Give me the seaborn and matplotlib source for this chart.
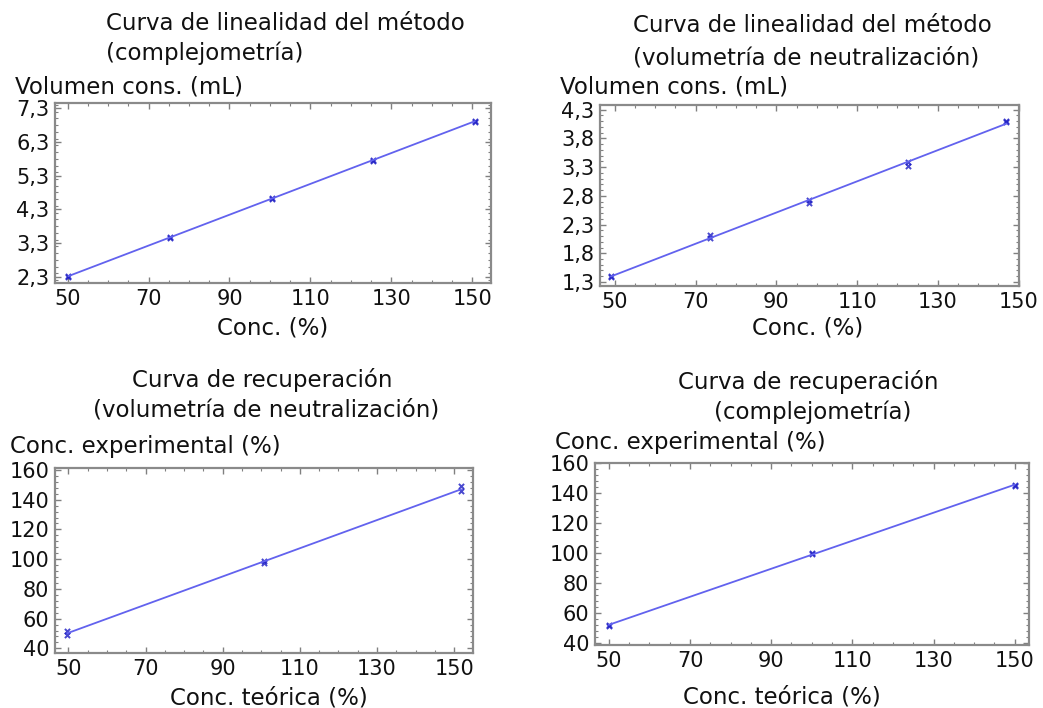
import numpy as np
import pandas as pd
import matplotlib
matplotlib.use("Agg")
import matplotlib.pyplot as plt
import seaborn as sns
from matplotlib.ticker import MultipleLocator, FuncFormatter

# Linearity, complexometry (conc. % vs volume mL)
lin_comp_conc = [50.2, 50.2, 75.3, 75.3, 100.4, 100.4, 125.5, 125.5, 150.6, 150.6]
lin_comp_vol = [2.30, 2.32, 3.46, 3.48, 4.61, 4.63, 5.75, 5.77, 6.91, 6.93]

# Linearity, neutralization volumetry
lin_neut_conc = [49.0, 49.0, 73.5, 73.5, 98.0, 98.0, 122.5, 122.5, 147.0, 147.0]
lin_neut_vol = [1.38, 1.41, 2.07, 2.12, 2.73, 2.67, 3.38, 3.31, 4.08, 4.11]

# Recovery, neutralization volumetry
rec_neut_teo = [49.7, 49.7, 100.8, 100.8, 151.8, 151.8]
rec_neut_exp = [52.0, 49.0, 98.5, 97.5, 149.0, 145.5]

# Recovery, complexometry
rec_comp_teo = [50.0, 50.0, 100.0, 100.0, 150.0, 150.0]
rec_comp_exp = [52.0, 51.5, 100.5, 99.5, 145.5, 145.0]

# Tick values
x_ticks = [50, 70, 90, 110, 130, 150]
lin_comp_yticks = [2.3, 3.3, 4.3, 5.3, 6.3, 7.3]
lin_neut_yticks = [1.3, 1.8, 2.3, 2.8, 3.3, 3.8, 4.3]
rec_yticks = [40, 60, 80, 100, 120, 140, 160]

W, H = 1043, 708
sns.set_theme(style="white")
plt.rcParams["font.family"] = ["DejaVu Sans"]

fig = plt.figure(figsize=(W / 100, H / 100), dpi=100)


def box(l, t, r, b):
    return [l / W, 1 - b / H, (r - l) / W, (b - t) / H]


def comma(v, pos):
    s = f"{v:.1f}" if abs(v - round(v)) > 1e-6 else f"{v:.0f}"
    return s.replace(".", ",")


def panel(rect, x, y, xlim, ylim, yticks, ymin):
    ax = fig.add_axes(rect)
    sns.regplot(x=x, y=y, ax=ax, ci=None, marker="x",
                scatter_kws=dict(s=14, color="#1c1cc4", linewidths=1.4),
                line_kws=dict(color="#6262ee", lw=1.3))
    ax.set_xlim(*xlim)
    ax.set_ylim(*ylim)
    ax.set_xlabel("")
    ax.set_ylabel("")
    ax.set_xticks(x_ticks)
    ax.xaxis.set_minor_locator(MultipleLocator(5))
    ax.set_yticks(yticks)
    ax.yaxis.set_minor_locator(MultipleLocator(ymin))
    ax.yaxis.set_major_formatter(FuncFormatter(comma))
    ax.tick_params(which="both", direction="in", top=True, right=True,
                   left=True, bottom=True,
                   color="#808080", labelsize=15, labelcolor="#111111")
    ax.tick_params(which="major", length=4, width=1, pad=4)
    ax.tick_params(which="minor", length=2.5, width=0.8)
    for sp in ax.spines.values():
        sp.set_color("#8a8a8a")
        sp.set_linewidth(1.6)
    return ax


def ptext(x, y, s, ha="left"):
    fig.text(x / W, 1 - y / H, s, ha=ha, va="center", fontsize=16.5, color="#111111")


# top left
panel(box(55, 103, 491, 283), lin_comp_conc, lin_comp_vol, (46.9, 154.6), (2.11, 7.46), lin_comp_yticks, 0.2)
# top right
panel(box(600, 105, 1019, 286), lin_neut_conc, lin_neut_vol, (46.3, 150.1), (1.23, 4.38), lin_neut_yticks, 0.1)
# bottom left
panel(box(55, 468, 473, 653), rec_neut_teo, rec_neut_exp, (46.5, 154.9), (36.9, 161.3), rec_yticks, 4)
# bottom right
panel(box(595, 463, 1029, 645), rec_comp_teo, rec_comp_exp, (46.6, 153.5), (38.8, 160.2), rec_yticks, 4)

# titles
ptext(106, 23, "Curva de linealidad del método")
ptext(106, 53, "(complejometría)")
ptext(633, 25, "Curva de linealidad del método")
ptext(633, 58, "(volumetría de neutralización)")
ptext(262, 380, "Curva de recuperación", ha="center")
ptext(266, 410, "(volumetría de neutralización)", ha="center")
ptext(808, 382, "Curva de recuperación", ha="center")
ptext(813, 412, "(complejometría)", ha="center")

# axis labels
ptext(15, 87, "Volumen cons. (mL)")
ptext(560, 87, "Volumen cons. (mL)")
ptext(10, 447, "Conc. experimental (%)")
ptext(555, 442, "Conc. experimental (%)")
ptext(273, 328, "Conc. (%)", ha="center")
ptext(808, 328, "Conc. (%)", ha="center")
ptext(269, 698, "Conc. teórica (%)", ha="center")
ptext(782, 697, "Conc. teórica (%)", ha="center")

fig.savefig("out.png", dpi=100, facecolor="white")
